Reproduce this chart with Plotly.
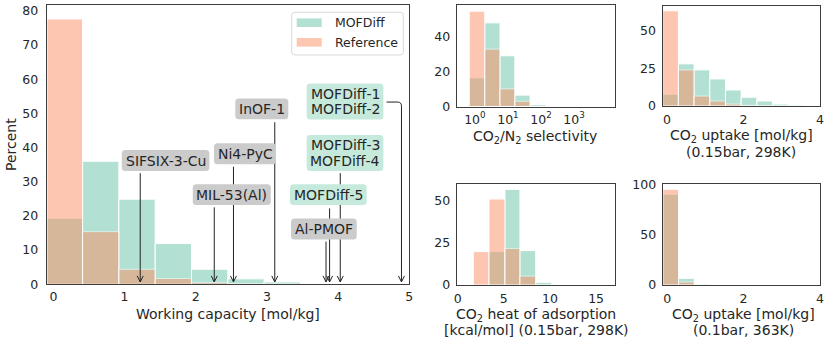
import plotly.graph_objects as go

W, H = 830, 344

# ---- data (percent of structures per bin) ----
# working capacity [mol/kg]
wc_edges = [-0.09, 0.41, 0.92, 1.43, 1.94, 2.45, 2.96, 3.47]
wc_mofdiff = [19.3, 36.0, 24.9, 11.9, 4.4, 1.6, 0.7]
wc_reference = [77.6, 15.4, 4.4, 1.7, 0.5, 0.2, 0.1]

# CO2/N2 selectivity, bin edges as log10
sel_edges = [-0.17, 0.30, 0.76, 1.21, 1.67, 2.15]
sel_mofdiff = [16.4, 47.8, 29.0, 6.5, 1.1]
sel_reference = [54.5, 32.8, 10.1, 3.0, 0.2]

# CO2 uptake (0.15bar, 298K)
up298_edges = [-0.11, 0.30, 0.71, 1.12, 1.53, 1.94, 2.35, 2.76, 3.17, 3.58]
up298_mofdiff = [7.8, 27.9, 23.9, 17.9, 10.6, 5.8, 3.3, 1.3, 0.7]
up298_reference = [63.0, 23.9, 6.6, 3.3, 1.3, 0.4, 0.2, 0.0, 0.0]

# CO2 heat of adsorption [kcal/mol]
heat_edges = [1.70, 3.40, 5.13, 6.75, 8.46, 10.2]
heat_mofdiff = [0.0, 19.8, 56.7, 20.4, 1.6]
heat_reference = [19.8, 51.0, 21.7, 5.3, 0.0]

# CO2 uptake (0.1bar, 363K)
up363_edges = [-0.11, 0.30, 0.71, 1.12]
up363_mofdiff = [90.7, 6.7, 1.0]
up363_reference = [95.7, 3.0, 0.3]

# labelled structures and their working capacity
ref_names = ["SIFSIX-3-Cu", "MIL-53(Al)", "Ni4-PyC", "InOF-1", "Al-PMOF"]
ref_wc = [1.22, 2.26, 2.53, 3.11, 3.83]
gen_names = ["MOFDiff-5", "MOFDiff-3<br>MOFDiff-4", "MOFDiff-1<br>MOFDiff-2"]
gen_wc = [3.88, 4.03, 4.89]

GREEN = "#66c2a5"
ORANGE = "#fc8d62"
TXT = "#262626"
FONT = "DejaVu Sans"


def fx(px):
    return px / W


def fy(py):
    return 1 - py / H


def rounded(w, h, r=3.5):
    a, b = w / 2, h / 2
    return (f"M {-a + r},{-b} L {a - r},{-b} Q {a},{-b} {a},{-b + r} "
            f"L {a},{b - r} Q {a},{b} {a - r},{b} L {-a + r},{b} "
            f"Q {-a},{b} {-a},{b - r} L {-a},{-b + r} Q {-a},{-b} {-a + r},{-b} Z")


fig = go.Figure()


def add_hist(edges, mof, ref, ax):
    mids = [(edges[i] + edges[i + 1]) / 2 for i in range(len(edges) - 1)]
    widths = [edges[i + 1] - edges[i] for i in range(len(edges) - 1)]
    for vals, col, name in [(mof, GREEN, "MOFDiff"), (ref, ORANGE, "Reference")]:
        fig.add_trace(go.Bar(
            x=mids, y=vals, width=widths, name=name, showlegend=False,
            marker=dict(color=col, line=dict(color="white", width=1)),
            opacity=0.5, xaxis="x" + ax, yaxis="y" + ax,
        ))


add_hist(wc_edges, wc_mofdiff, wc_reference, "")
add_hist(sel_edges, sel_mofdiff, sel_reference, "2")
add_hist(up298_edges, up298_mofdiff, up298_reference, "3")
add_hist(heat_edges, heat_mofdiff, heat_reference, "4")
add_hist(up363_edges, up363_mofdiff, up363_reference, "5")


def axis(dom, rng, tickvals, ticktext=None, standoff=5, anchor=None):
    d = dict(domain=dom, range=rng, tickvals=tickvals, showgrid=False, zeroline=False,
             showline=True, mirror=True, linecolor="#3d3d3d", linewidth=1,
             ticks="", ticklabelstandoff=standoff, automargin=False,
             tickfont=dict(family=FONT, size=12.5, color=TXT), fixedrange=True)
    if ticktext is not None:
        d["ticktext"] = ticktext
    if anchor:
        d["anchor"] = anchor
    return d


fig.update_layout(
    width=W, height=H, margin=dict(l=0, r=0, t=0, b=0, autoexpand=False),
    plot_bgcolor="white", paper_bgcolor="white", barmode="overlay", showlegend=False,
    xaxis=axis([fx(46.7), fx(409.3)], [-0.094, 5.0], [0, 1, 2, 3, 4, 5], standoff=1, anchor="y"),
    yaxis=axis([fy(284.3), fy(5.3)], [0, 81.6], list(range(0, 90, 10)), standoff=5, anchor="x"),
    xaxis2=axis([fx(456.7), fx(615)], [-0.55, 4.24], [0, 1, 2, 3],
                ["10<sup>0</sup>", "10<sup>1</sup>", "10<sup>2</sup>", "10<sup>3</sup>"],
                standoff=1, anchor="y2"),
    yaxis2=axis([fy(106.5), fy(5)], [0, 58], [0, 20, 40], standoff=3, anchor="x2"),
    xaxis3=axis([fx(662.5), fx(820)], [-0.115, 4.0], [0, 2, 4], standoff=2, anchor="y3"),
    yaxis3=axis([fy(106), fy(5.5)], [0, 66.5], [0, 25, 50], standoff=3, anchor="x3"),
    xaxis4=axis([fx(456.7), fx(615)], [-0.1, 17.05], [0, 5, 10, 15], standoff=2, anchor="y4"),
    yaxis4=axis([fy(285), fy(184)], [0, 59.9], [0, 25, 50], standoff=3, anchor="x4"),
    xaxis5=axis([fx(662.7), fx(820)], [-0.115, 4.0], [0, 2, 4], standoff=2, anchor="y5"),
    yaxis5=axis([fy(285), fy(184)], [0, 101], [0, 50, 100], standoff=3, anchor="x5"),
)

# ---- callouts on the working-capacity panel ----
# name: (box centre x, box centre y, arrow top y, box w px, box h px)
callout = {
    "SIFSIX-3-Cu": (1.576, 36.2, 32.5, 87.6, 21),
    "MIL-53(Al)": (2.506, 26.2, 22.5, 78, 20.7),
    "Ni4-PyC": (2.692, 38.2, 34.4, 62, 21),
    "InOF-1": (2.928, 51.3, 47.4, 53, 20.7),
    "Al-PMOF": (3.80, 16.15, 12.5, 65.7, 21),
    "MOFDiff-5": (3.862, 26.2, 22.2, 76.7, 20.7),
    "MOFDiff-3<br>MOFDiff-4": (4.097, 38.4, 32.5, 76.7, 36),
    "MOFDiff-1<br>MOFDiff-2": (4.097, 53.5, None, 76.7, 36),
}
LINE = "#222222"
TIP = 0.7
shapes = []
boxes = []
annos = []
for names, xs, fill in [(ref_names, ref_wc, "#cbcbcb"), (gen_names, gen_wc, "#c5e9db")]:
    for name, xv in zip(names, xs):
        cx, cy, top, bw, bh = callout[name]
        if top is None:
            # bent connector from the right side of the box
            shapes.append(dict(type="path", xref="x", yref="y", line=dict(color=LINE, width=1),
                               path=f"M 4.68,53.3 L 4.837,53.3 Q {xv},53.3 {xv},52.1 L {xv},{TIP}"))
        else:
            shapes.append(dict(type="line", xref="x", yref="y", x0=xv, x1=xv, y0=top, y1=TIP,
                               line=dict(color=LINE, width=1)))
        shapes.append(dict(type="path", xref="x", yref="y", xsizemode="pixel", ysizemode="pixel",
                           xanchor=xv, yanchor=TIP, path="M -3,6 L 0,0 L 3,6",
                           line=dict(color=LINE, width=1)))
        boxes.append(dict(type="path", xref="x", yref="y", xsizemode="pixel", ysizemode="pixel",
                          xanchor=cx, yanchor=cy, path=rounded(bw, bh), fillcolor=fill,
                          line=dict(width=0)))
        lines = name.split("<br>")
        for k, t in enumerate(lines):
            shift = (len(lines) - 1) * 7.7 - k * 15.4
            annos.append(dict(x=cx, y=cy, xref="x", yref="y", text=t, showarrow=False,
                              yshift=shift, xanchor="center", yanchor="middle",
                              font=dict(family=FONT, size=14, color=TXT)))

# ---- legend drawn by hand ----
leg = [dict(type="path", xref="paper", yref="paper", xsizemode="pixel", ysizemode="pixel",
            xanchor=fx(347.5), yanchor=fy(33.6), path=rounded(111.6, 42.7, 3),
            fillcolor="white", line=dict(color="#d9d9d9", width=1))]
for row, (col, name) in enumerate([(GREEN, "MOFDiff"), (ORANGE, "Reference")]):
    yc = 22.7 + row * 19.6
    leg.append(dict(type="rect", xref="paper", yref="paper", x0=fx(296.7), x1=fx(321.7),
                    y0=fy(yc - 4.3), y1=fy(yc + 4.3), fillcolor=col, opacity=0.5,
                    line=dict(width=0)))
    annos.append(dict(x=fx(333.3), y=fy(yc), xref="paper", yref="paper", text=name,
                      showarrow=False, xanchor="left", yanchor="middle",
                      font=dict(family=FONT, size=12.5, color=TXT)))

# ---- axis titles (pixel centre of each line) ----
titles = [
    ("Working capacity [mol/kg]", 227.8, 314.0),
    ("CO<sub>2</sub>/N<sub>2</sub> selectivity", 534.5, 137.3),
    ("CO<sub>2</sub> uptake [mol/kg]", 741.3, 136.5),
    ("(0.15bar, 298K)", 741.3, 151.5),
    ("CO<sub>2</sub> heat of adsorption", 535.5, 314.5),
    ("[kcal/mol] (0.15bar, 298K)", 536.2, 329.8),
    ("CO<sub>2</sub> uptake [mol/kg]", 743.0, 314.5),
    ("(0.1bar, 363K)", 743.8, 329.8),
]
for t, x, y in titles:
    annos.append(dict(x=fx(x), y=fy(y), xref="paper", yref="paper", text=t, showarrow=False,
                      xanchor="center", yanchor="middle",
                      font=dict(family=FONT, size=14, color=TXT)))
annos.append(dict(x=fx(11), y=fy(145), xref="paper", yref="paper", text="Percent",
                  showarrow=False, textangle=-90, xanchor="center", yanchor="middle",
                  font=dict(family=FONT, size=14, color=TXT)))

fig.update_layout(shapes=shapes + boxes + leg, annotations=annos)

fig.write_html("out.html", config={"displayModeBar": False},
               post_script="document.body.style.margin='0';"
                           "document.documentElement.style.overflow='hidden';")
